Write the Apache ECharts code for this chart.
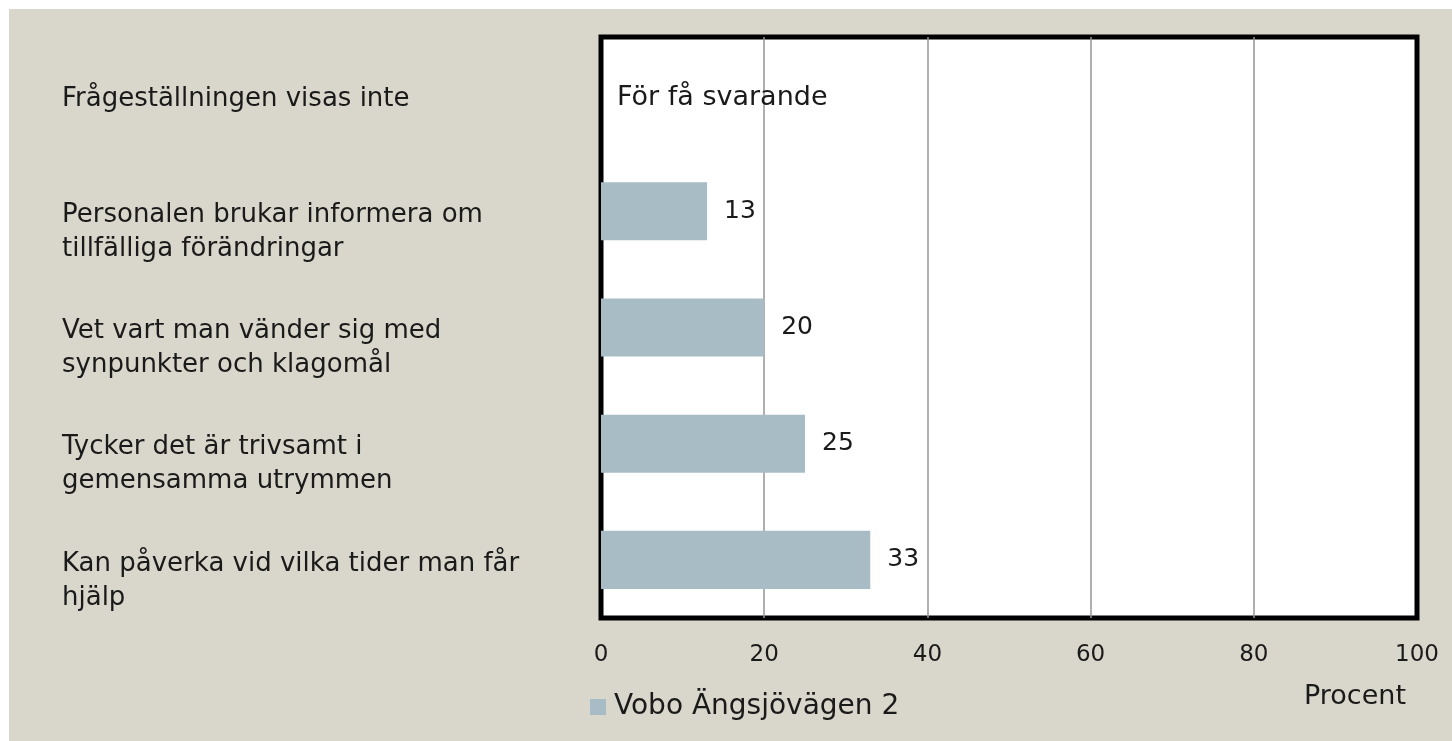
<!DOCTYPE html>
<html>
<head>
<meta charset="utf-8">
<script src="https://cdn.jsdelivr.net/npm/echarts@6/dist/echarts.min.js"></script>
<style>
html,body{margin:0;padding:0;background:#fff;}
#chart{width:1452px;height:741px;}
</style>
</head>
<body>
<div id="chart"></div>
<script>
const categories = [
  "Frågeställningen visas inte",
  "Personalen brukar informera om\ntillfälliga förändringar",
  "Vet vart man vänder sig med\nsynpunkter och klagomål",
  "Tycker det är trivsamt i\ngemensamma utrymmen",
  "Kan påverka vid vilka tider man får\nhjälp"
];
const values = [null, 13, 20, 25, 33];
const seriesName = "Vobo Ängsjövägen 2";
const noDataText = "För få svarande";
const axisTitle = "Procent";
const xTicks = [0, 20, 40, 60, 80, 100];

const FONT = "DejaVu Sans";
const TXT = "#1a1a1a";

const chart = echarts.init(document.getElementById('chart'), null, {renderer: 'canvas'});
chart.setOption({
  backgroundColor: '#ffffff',
  animation: false,
  textStyle: {fontFamily: FONT},
  graphic: [
    {type: 'rect', z: -10, silent: true, shape: {x: 9, y: 9, width: 1443, height: 732}, style: {fill: '#d9d7cb'}},
    {type: 'text', z: 10, x: 1304, y: 697, style: {text: axisTitle, font: '27px "DejaVu Sans"', fill: TXT, verticalAlign: 'middle'}}
  ],
  legend: {
    left: 585, top: 688,
    icon: 'rect', itemWidth: 16, itemHeight: 16, itemGap: 10,
    textStyle: {fontSize: 28, color: TXT, fontFamily: FONT, padding: [0, 0, 0, 3]},
    data: [seriesName]
  },
  grid: {
    left: 601, right: 35, top: 37, bottom: 123,
    show: true, backgroundColor: '#ffffff', borderColor: '#000000', borderWidth: 5,
    containLabel: false
  },
  xAxis: {
    type: 'value', min: xTicks[0], max: xTicks[xTicks.length - 1], interval: 20,
    axisLine: {show: false}, axisTick: {show: false},
    axisLabel: {margin: 26, fontSize: 23, color: TXT, fontFamily: FONT, showMinLabel: true, showMaxLabel: true},
    splitLine: {show: true, showMinLine: false, showMaxLine: false, lineStyle: {color: '#959595', width: 1.5}}
  },
  yAxis: {
    type: 'category', inverse: true, data: categories,
    axisLine: {show: false}, axisTick: {show: false},
    axisLabel: {
      margin: 539, align: 'left', verticalAlign: 'top', padding: [-13, 0, 0, 0],
      fontSize: 26, color: TXT, fontFamily: FONT, lineHeight: 34
    },
    splitLine: {show: false}
  },
  series: [{
    name: seriesName, type: 'bar', barCategoryGap: '50%',
    itemStyle: {color: '#a8bcc6'},
    label: {show: true, position: 'right', distance: 17, fontSize: 25, color: TXT, fontFamily: FONT},
    data: values.map(v => v == null
      ? {value: 0, label: {formatter: noDataText, distance: 16, fontSize: 27, offset: [0, 3]}}
      : v)
  }]
});
</script>
</body>
</html>
